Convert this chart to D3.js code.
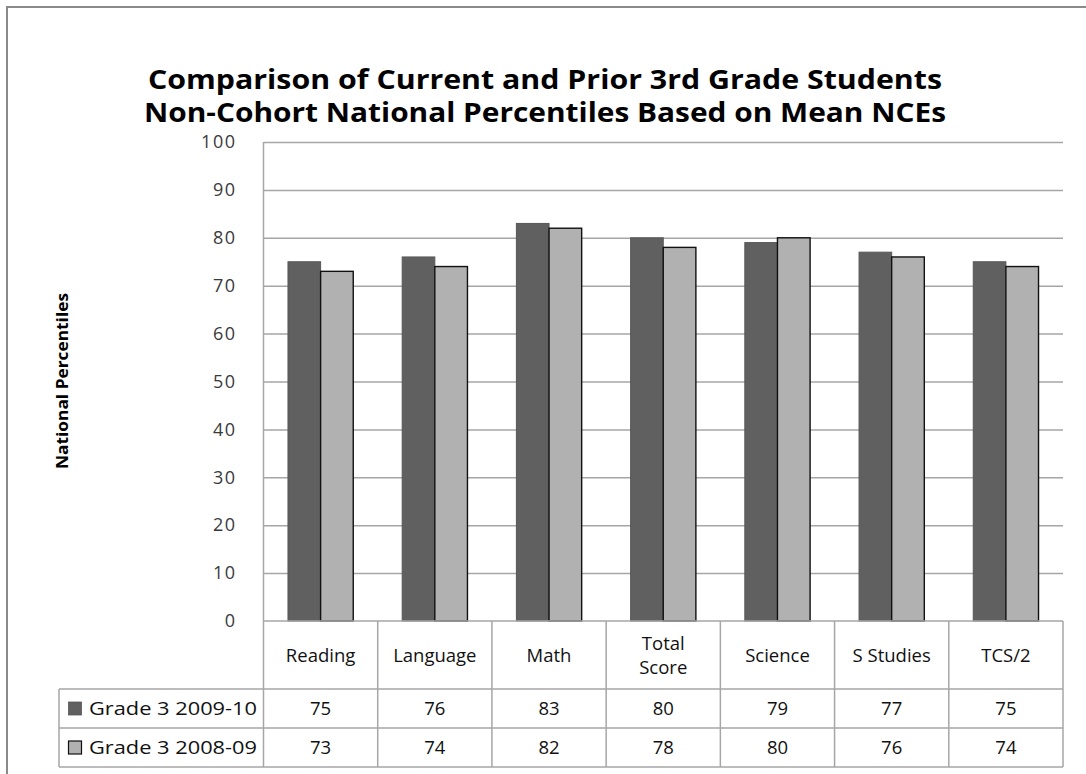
<!DOCTYPE html>
<html>
<head>
<meta charset="utf-8">
<script src="https://cdn.jsdelivr.net/npm/d3@7"></script>
<style>
  html, body { margin: 0; padding: 0; background: #fff; }
  svg { display: block; }
  text { font-family: "Open Sans", Lato, "Liberation Sans", sans-serif; }
</style>
</head>
<body>
<svg id="chart" width="1086" height="774"></svg>
<script>
const titleLines = ["Comparison of Current and Prior 3rd Grade Students",
                    "Non-Cohort National Percentiles Based on Mean NCEs"];
const yAxisTitle = "National Percentiles";
const categories = ["Reading", "Language", "Math", "Total Score", "Science", "S Studies", "TCS/2"];
const seriesNames = ["Grade 3 2009-10", "Grade 3 2008-09"];
const grade2009 = [75, 76, 83, 80, 79, 77, 75];
const grade2008 = [73, 74, 82, 78, 80, 76, 74];
const yTicks = [0, 10, 20, 30, 40, 50, 60, 70, 80, 90, 100];

const seriesValues = [grade2009, grade2008];
const fills = ["#606060", "#b1b1b1"];
const strokes = ["#575757", "#111111"];
const gridColor = "#a6a6a6";

const svg = d3.select("#chart");

// outer chart border
svg.append("path")
  .attr("d", "M7,780 L7,7 L1090,7")
  .attr("fill", "none").attr("stroke", "#8a8a8a").attr("stroke-width", 2);

// title
const titleWidths = [794, 802];
svg.selectAll("text.title").data(titleLines).join("text")
  .attr("class", "title")
  .attr("x", 545).attr("y", (d, i) => 89 + i * 33)
  .attr("text-anchor", "middle")
  .attr("font-family", "Lato, 'Open Sans', sans-serif")
  .attr("font-size", 26).attr("font-weight", "bold").attr("fill", "#000")
  .attr("textLength", (d, i) => titleWidths[i])
  .attr("lengthAdjust", "spacingAndGlyphs")
  .text(d => d);

const plotLeft = 263.5, plotRight = 1063, plotTop = 142, plotBottom = 621;

const x = d3.scaleBand().domain(categories).range([plotLeft, plotRight]).paddingInner(0).paddingOuter(0);
const xi = d3.scaleBand().domain(seriesNames).range([0, x.bandwidth()]).paddingInner(0).paddingOuter(0.75);
const y = d3.scaleLinear().domain([0, 100]).range([plotBottom, plotTop]);

// gridlines
const grid = svg.append("g").attr("transform", `translate(${plotLeft},0)`)
  .call(d3.axisLeft(y).tickValues(yTicks.filter(t => t > 0)).tickSize(-(plotRight - plotLeft)).tickFormat(""));
grid.select(".domain").remove();
grid.selectAll("line").attr("stroke", gridColor).attr("stroke-width", 1.5);

// y axis labels
const yAxis = svg.append("g").attr("transform", `translate(${plotLeft},0)`)
  .call(d3.axisLeft(y).tickValues(yTicks).tickSize(0).tickPadding(27));
yAxis.select(".domain").remove();
yAxis.selectAll("text").attr("font-size", 18).attr("fill", "#3a3a3a")
  .attr("letter-spacing", 1.5)
  .attr("font-family", "'DejaVu Sans', Verdana, sans-serif");

// y axis line
svg.append("line").attr("x1", plotLeft).attr("x2", plotLeft)
  .attr("y1", plotTop).attr("y2", 767)
  .attr("stroke", gridColor).attr("stroke-width", 1.5);

// y axis title
svg.append("text")
  .attr("transform", "translate(68,381) rotate(-90)")
  .attr("text-anchor", "middle").attr("font-size", 16).attr("font-weight", "bold")
  .attr("font-family", "Lato, 'Open Sans', sans-serif")
  .attr("textLength", 176).attr("lengthAdjust", "spacingAndGlyphs")
  .attr("fill", "#000")
  .text(yAxisTitle);

// bars
seriesNames.forEach((s, si) => {
  svg.append("g").selectAll("rect").data(categories).join("rect")
    .attr("x", c => x(c) + xi(s))
    .attr("y", (c, i) => y(seriesValues[si][i]))
    .attr("width", xi.bandwidth())
    .attr("height", (c, i) => y(0) - y(seriesValues[si][i]))
    .attr("fill", fills[si])
    .attr("stroke", strokes[si]).attr("stroke-width", si === 1 ? 1.4 : 1);
});

// data table
const headerTop = 621, headerBottom = 689, rowBottoms = [728, 767];
const legendLeft = 59;
const tbl = svg.append("g");
const lineAttr = sel => sel.attr("stroke", gridColor).attr("stroke-width", 1.5);

tbl.append("line").attr("x1", plotLeft).attr("x2", plotRight).attr("y1", headerTop).attr("y2", headerTop).call(lineAttr);
[headerBottom, ...rowBottoms].forEach(yy => {
  tbl.append("line").attr("x1", legendLeft).attr("x2", plotRight).attr("y1", yy).attr("y2", yy).call(lineAttr);
});
categories.forEach(c => {
  tbl.append("line").attr("x1", x(c) + x.bandwidth()).attr("x2", x(c) + x.bandwidth())
    .attr("y1", headerTop).attr("y2", rowBottoms[1]).call(lineAttr);
});
tbl.append("line").attr("x1", legendLeft).attr("x2", legendLeft)
  .attr("y1", headerBottom).attr("y2", rowBottoms[1]).call(lineAttr);

// category labels
categories.forEach(c => {
  const words = c === "Total Score" ? ["Total", "Score"] : [c];
  const cy = (headerTop + headerBottom) / 2;
  words.forEach((w, wi) => {
    tbl.append("text")
      .attr("x", x(c) + x.bandwidth() / 2)
      .attr("y", cy + 6.5 + (wi - (words.length - 1) / 2) * 24)
      .attr("text-anchor", "middle").attr("font-size", 18.5).attr("fill", "#111")
      .text(w);
  });
});

// rows
const rowTops = [headerBottom, rowBottoms[0]];
seriesNames.forEach((s, si) => {
  const cy = (rowTops[si] + rowBottoms[si]) / 2;
  tbl.append("rect").attr("x", 68.5).attr("y", cy - 6.5).attr("width", 13).attr("height", 13)
    .attr("fill", fills[si]).attr("stroke", strokes[si]).attr("stroke-width", si === 1 ? 1.2 : 0.8);
  tbl.append("text").attr("x", 89).attr("y", cy + 6.5)
    .attr("font-size", 18).attr("fill", "#111")
    .attr("textLength", 168).attr("lengthAdjust", "spacingAndGlyphs")
    .text(s);
  categories.forEach((c, ci) => {
    tbl.append("text")
      .attr("x", x(c) + x.bandwidth() / 2).attr("y", cy + 6.5)
      .attr("text-anchor", "middle").attr("font-size", 18.5).attr("fill", "#111")
      .text(seriesValues[si][ci]);
  });
});
</script>
</body>
</html>
